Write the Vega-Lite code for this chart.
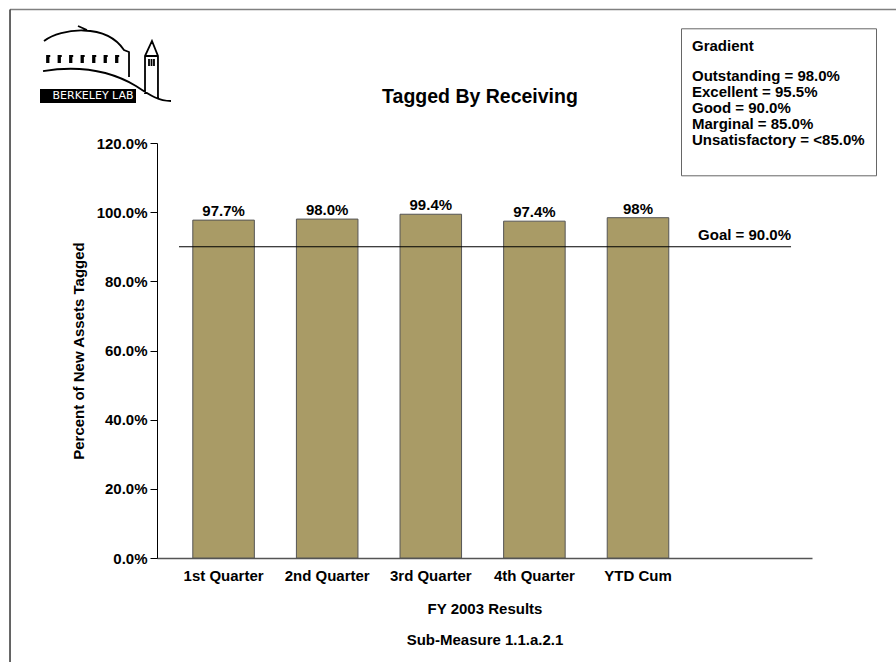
{
  "$schema": "https://vega.github.io/schema/vega-lite/v6.json",
  "width": 655,
  "height": 415,
  "autosize": {"type": "none"},
  "padding": {"left": 157, "top": 143, "right": 84, "bottom": 104},
  "background": "white",
  "config": {
    "font": "Liberation Sans",
    "view": {"stroke": null},
    "axis": {"grid": false}
  },
  "datasets": {
    "results": [
      {"period": "1st Quarter", "pct": 97.7, "label": "97.7%"},
      {"period": "2nd Quarter", "pct": 98.0, "label": "98.0%"},
      {"period": "3rd Quarter", "pct": 99.4, "label": "99.4%"},
      {"period": "4th Quarter", "pct": 97.4, "label": "97.4%"},
      {"period": "YTD Cum", "pct": 98.4, "label": "98%"}
    ],
    "goal": [{"goal": 90, "label": "Goal = 90.0%", "title": "Tagged By Receiving"}],
    "gradient": [
      {"rating": "Outstanding = 98.0%"},
      {"rating": "Excellent = 95.5%"},
      {"rating": "Good = 90.0%"},
      {"rating": "Marginal = 85.0%"},
      {"rating": "Unsatisfactory = <85.0%"}
    ],
    "logo": [{"logo": "lab", "org": "BERKELEY LAB"}]
  },
  "layer": [
    {
      "data": {"name": "results"},
      "encoding": {
        "x": {
          "field": "period",
          "type": "nominal",
          "sort": null,
          "scale": {"paddingInner": 0.406, "paddingOuter": 0.864, "align": 0.2},
          "axis": {
            "title": ["FY 2003 Results", "Sub-Measure 1.1.a.2.1"],
            "labelAngle": 0,
            "ticks": false,
            "labelPadding": 10,
            "labelFontSize": 15,
            "labelFontWeight": "bold",
            "labelColor": "black",
            "titleFontSize": 15,
            "titleFontWeight": "bold",
            "titleColor": "black",
            "titleLineHeight": 31,
            "titlePadding": 18,
            "domainColor": "#555",
            "domainWidth": 1.5
          }
        },
        "y": {
          "field": "pct",
          "type": "quantitative",
          "scale": {"domain": [0, 120], "nice": false},
          "axis": {
            "values": [0, 20, 40, 60, 80, 100, 120],
            "labelExpr": "format(datum.value, '.1f') + '%'",
            "title": "Percent of New Assets Tagged",
            "tickSize": 7,
            "tickColor": "black",
            "domainColor": "black",
            "labelPadding": 3,
            "labelFontSize": 15,
            "labelFontWeight": "bold",
            "labelColor": "black",
            "titleFontSize": 15,
            "titleFontWeight": "bold",
            "titleColor": "black",
            "titlePadding": 10
          }
        }
      },
      "layer": [
        {"mark": {"type": "bar", "fill": "#A99B66", "stroke": "#555", "strokeWidth": 1}},
        {
          "mark": {"type": "text", "baseline": "alphabetic", "dy": -4, "fontSize": 15, "fontWeight": "bold", "color": "black"},
          "encoding": {"text": {"field": "label"}}
        }
      ]
    },
    {
      "data": {"name": "goal"},
      "layer": [
        {
          "mark": {"type": "rule", "color": "black", "strokeWidth": 1},
          "encoding": {
            "x": {"datum": 0.0336, "type": "quantitative", "scale": {"domain": [0, 1], "nice": false, "zero": false}, "axis": null},
            "x2": {"datum": 0.968},
            "y": {"field": "goal", "type": "quantitative", "scale": {"domain": [0, 120], "nice": false}}
          }
        },
        {
          "mark": {"type": "text", "align": "right", "baseline": "alphabetic", "dy": -7, "fontSize": 15, "fontWeight": "bold", "color": "black"},
          "encoding": {
            "x": {"datum": 0.968, "type": "quantitative"},
            "y": {"field": "goal", "type": "quantitative", "scale": {"domain": [0, 120], "nice": false}},
            "text": {"field": "label"}
          }
        },
        {
          "mark": {"type": "text", "align": "center", "baseline": "alphabetic", "fontSize": 19.5, "fontWeight": "bold", "color": "black"},
          "encoding": {
            "x": {"datum": 0.4931, "type": "quantitative"},
            "y": {"datum": 131.5, "type": "quantitative", "scale": {"domain": [0, 120], "nice": false}},
            "text": {"field": "title"}
          }
        },
        {
          "mark": {"type": "rule", "color": "#808080", "strokeWidth": 1.5},
          "encoding": {
            "x": {"datum": -0.2244, "type": "quantitative"},
            "x2": {"datum": 1.5},
            "y": {"datum": 158.6, "type": "quantitative", "scale": {"domain": [0, 120], "nice": false}}
          }
        },
        {
          "mark": {"type": "rule", "color": "#333333", "strokeWidth": 1.5},
          "encoding": {
            "x": {"datum": -0.2244, "type": "quantitative"},
            "y": {"datum": 158.6, "type": "quantitative", "scale": {"domain": [0, 120], "nice": false}},
            "y2": {"datum": -40}
          }
        }
      ]
    },
    {
      "data": {"name": "gradient"},
      "mark": {"type": "point", "opacity": 0},
      "encoding": {
        "color": {
          "field": "rating",
          "type": "nominal",
          "scale": {
            "domain": ["Outstanding = 98.0%", "Excellent = 95.5%", "Good = 90.0%", "Marginal = 85.0%", "Unsatisfactory = <85.0%", " "],
            "range": ["black", "black", "black", "black", "black", "black"]
          },
          "legend": {
            "orient": "none",
            "legendX": 524,
            "legendY": -114.7,
            "title": "Gradient",
            "titleFontSize": 15,
            "titleFontWeight": "bold",
            "titleColor": "black",
            "titlePadding": 14,
            "labelFontSize": 15,
            "labelFontWeight": "bold",
            "labelColor": "black",
            "labelLimit": 400,
            "labelOffset": -15,
            "symbolSize": 0,
            "symbolOpacity": 0,
            "rowPadding": 0,
            "padding": 11,
            "strokeColor": "#666",
            "fillColor": "white"
          }
        }
      }
    },
    {
      "data": {"name": "logo"},
      "mark": {"type": "point", "opacity": 0, "color": "black", "filled": false},
      "encoding": {
        "shape": {
          "field": "logo",
          "type": "nominal",
          "scale": {"range": ["M-0.969 -0.357 C-0.705 -0.558 -0.008 -0.636 0.271 -0.217 L0.349 -0.186 L0.349 0.202 M-0.442 -0.589 L-0.302 -0.527 M-0.922 -0.016 L-0.922 -0.124 L-0.872 -0.124 M-0.899 -0.016 L-0.899 -0.11 M-0.744 -0.016 L-0.744 -0.124 L-0.694 -0.124 M-0.721 -0.016 L-0.721 -0.11 M-0.566 -0.016 L-0.566 -0.124 L-0.516 -0.124 M-0.543 -0.016 L-0.543 -0.11 M-0.388 -0.016 L-0.388 -0.124 L-0.338 -0.124 M-0.365 -0.016 L-0.365 -0.11 M-0.209 -0.016 L-0.209 -0.124 L-0.159 -0.124 M-0.186 -0.016 L-0.186 -0.11 M-0.031 -0.016 L-0.031 -0.124 L0.019 -0.124 M-0.008 -0.016 L-0.008 -0.11 M0.147 -0.016 L0.147 -0.124 L0.197 -0.124 M0.170 -0.016 L0.170 -0.11 M-0.984 0.109 C-0.395 0.016 0.070 0.109 0.457 0.341 C0.690 0.496 0.814 0.574 1 0.574 M0.597 0.465 L0.597 -0.124 L0.705 -0.357 L0.798 -0.124 L0.798 0.527 M0.597 -0.124 L0.798 -0.124 M0.659 -0.078 L0.659 0.031 M0.698 -0.078 L0.698 0.031 M0.736 -0.078 L0.736 0.031"]},
          "legend": {
            "orient": "none",
            "legendX": -116,
            "legendY": -144.5,
            "title": null,
            "labelExpr": "''",
            "labelOffset": 0,
            "labelFontSize": 1,
            "symbolSize": 16641,
            "symbolStrokeColor": "black",
            "symbolFillColor": "transparent",
            "symbolStrokeWidth": 1.8,
            "symbolOpacity": 1,
            "padding": 0
          }
        }
      }
    },
    {
      "data": {"name": "logo"},
      "mark": {"type": "point", "opacity": 0},
      "encoding": {
        "fill": {
          "field": "org",
          "type": "nominal",
          "scale": {"range": ["black"]},
          "legend": {
            "orient": "none",
            "legendX": -117,
            "legendY": -54,
            "title": null,
            "fillColor": "black",
            "labelColor": "white",
            "labelFont": "DejaVu Sans",
            "labelFontSize": 11,
            "labelOffset": 0,
            "symbolSize": 0,
            "symbolOpacity": 0,
            "padding": 1.5
          }
        }
      }
    }
  ],
  "resolve": {"scale": {"x": "independent"}}
}
